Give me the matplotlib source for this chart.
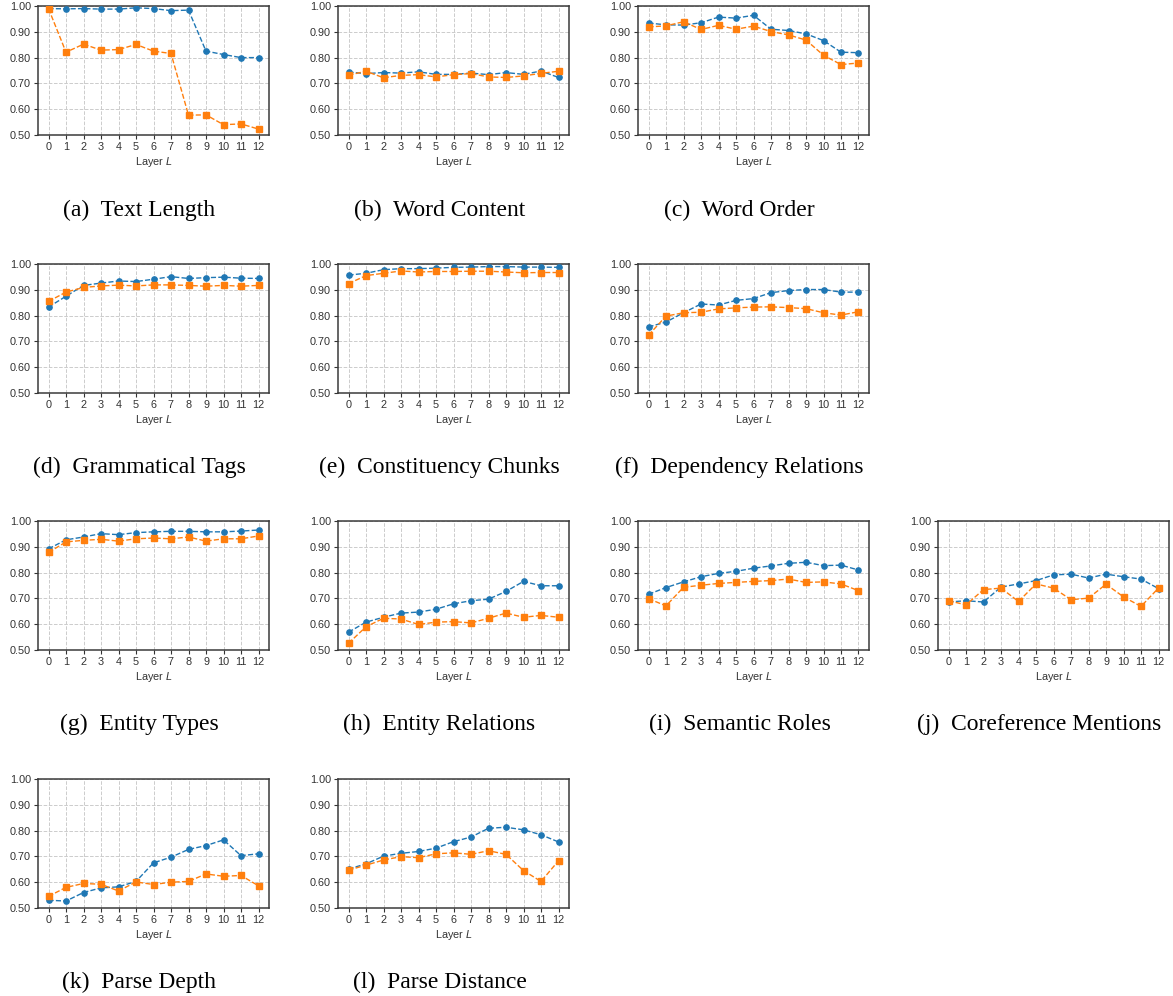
import matplotlib
matplotlib.use("Agg")
import matplotlib.pyplot as plt
import numpy as np

layers = list(range(13))

titles = ['(a)  Text Length', '(b)  Word Content', '(c)  Word Order',
          '(d)  Grammatical Tags', '(e)  Constituency Chunks', '(f)  Dependency Relations',
          '(g)  Entity Types', '(h)  Entity Relations', '(i)  Semantic Roles',
          '(j)  Coreference Mentions', '(k)  Parse Depth', '(l)  Parse Distance']

# blue (circle) series, one list per task
text_length_a = [0.990, 0.989, 0.990, 0.988, 0.988, 0.993, 0.990, 0.982, 0.984, 0.825, 0.812, 0.800, 0.800]
word_content_a = [0.744, 0.738, 0.742, 0.740, 0.745, 0.735, 0.735, 0.740, 0.734, 0.742, 0.735, 0.748, 0.723]
word_order_a = [0.934, 0.927, 0.926, 0.935, 0.957, 0.953, 0.964, 0.910, 0.905, 0.892, 0.866, 0.821, 0.819]
gram_tags_a = [0.833, 0.875, 0.917, 0.926, 0.934, 0.932, 0.941, 0.951, 0.944, 0.947, 0.949, 0.945, 0.944]
chunks_a = [0.957, 0.964, 0.978, 0.982, 0.982, 0.984, 0.987, 0.988, 0.990, 0.990, 0.988, 0.988, 0.987]
dep_rel_a = [0.756, 0.775, 0.811, 0.845, 0.841, 0.859, 0.866, 0.889, 0.897, 0.901, 0.901, 0.891, 0.891]
ent_types_a = [0.892, 0.927, 0.938, 0.951, 0.947, 0.955, 0.958, 0.960, 0.960, 0.958, 0.958, 0.961, 0.965]
ent_rel_a = [0.569, 0.608, 0.627, 0.643, 0.647, 0.658, 0.679, 0.691, 0.697, 0.727, 0.766, 0.749, 0.749]
sem_roles_a = [0.716, 0.742, 0.764, 0.784, 0.797, 0.805, 0.817, 0.826, 0.836, 0.840, 0.827, 0.829, 0.810]
coref_a = [0.686, 0.691, 0.686, 0.744, 0.756, 0.769, 0.791, 0.794, 0.779, 0.794, 0.784, 0.775, 0.738]
parse_depth_a = [0.530, 0.527, 0.560, 0.578, 0.582, 0.603, 0.675, 0.697, 0.727, 0.742, 0.764, 0.703, 0.710]
parse_dist_a = [0.651, 0.671, 0.701, 0.712, 0.719, 0.732, 0.757, 0.775, 0.809, 0.813, 0.803, 0.784, 0.756]

# orange (square) series
text_length_b = [0.990, 0.821, 0.852, 0.829, 0.831, 0.851, 0.825, 0.816, 0.577, 0.578, 0.540, 0.543, 0.523]
word_content_b = [0.732, 0.747, 0.722, 0.731, 0.734, 0.725, 0.734, 0.738, 0.725, 0.723, 0.729, 0.739, 0.747]
word_order_b = [0.919, 0.923, 0.939, 0.909, 0.925, 0.910, 0.922, 0.901, 0.888, 0.868, 0.809, 0.773, 0.779]
gram_tags_b = [0.855, 0.891, 0.909, 0.915, 0.918, 0.915, 0.919, 0.919, 0.917, 0.914, 0.917, 0.914, 0.917]
chunks_b = [0.924, 0.955, 0.964, 0.973, 0.969, 0.971, 0.971, 0.972, 0.972, 0.969, 0.966, 0.967, 0.967]
dep_rel_b = [0.724, 0.798, 0.811, 0.813, 0.826, 0.830, 0.833, 0.834, 0.831, 0.827, 0.811, 0.802, 0.815]
ent_types_b = [0.878, 0.919, 0.925, 0.929, 0.922, 0.931, 0.934, 0.931, 0.938, 0.922, 0.931, 0.931, 0.942]
ent_rel_b = [0.526, 0.590, 0.623, 0.620, 0.599, 0.608, 0.610, 0.605, 0.623, 0.643, 0.627, 0.634, 0.627]
sem_roles_b = [0.699, 0.671, 0.743, 0.751, 0.758, 0.762, 0.766, 0.769, 0.775, 0.762, 0.764, 0.756, 0.730]
coref_b = [0.691, 0.675, 0.734, 0.740, 0.688, 0.756, 0.740, 0.695, 0.701, 0.755, 0.706, 0.669, 0.740]
parse_depth_b = [0.545, 0.580, 0.595, 0.592, 0.566, 0.601, 0.591, 0.600, 0.603, 0.632, 0.623, 0.626, 0.586]
parse_dist_b = [0.647, 0.666, 0.686, 0.699, 0.695, 0.710, 0.714, 0.708, 0.722, 0.708, 0.645, 0.603, 0.683]

series_a = [text_length_a, word_content_a, word_order_a, gram_tags_a, chunks_a, dep_rel_a,
            ent_types_a, ent_rel_a, sem_roles_a, coref_a, parse_depth_a, parse_dist_a]
series_b = [text_length_b, word_content_b, word_order_b, gram_tags_b, chunks_b, dep_rel_b,
            ent_types_b, ent_rel_b, sem_roles_b, coref_b, parse_depth_b, parse_dist_b]

# (col, row) placement of each panel in the 4x4 grid
slots = [(0, 0), (1, 0), (2, 0), (0, 1), (1, 1), (2, 1),
         (0, 2), (1, 2), (2, 2), (3, 2), (0, 3), (1, 3)]

W, H = 1173, 996
col_left = [38, 338, 638, 938]
row_top = [6, 264, 521, 779]
ax_w, ax_h = 231, 129
caption_y = [210, 467, 724, 982]

plt.rcParams['font.family'] = ['Liberation Sans', 'DejaVu Sans']
plt.rcParams['mathtext.fontset'] = 'custom'
plt.rcParams['mathtext.it'] = 'Liberation Sans:italic'

fig = plt.figure(figsize=(W / 100, H / 100), dpi=100)

for i, (col, row) in enumerate(slots):
    x0 = col_left[col]
    y0 = row_top[row]
    ax = fig.add_axes([x0 / W, 1 - (y0 + ax_h) / H, ax_w / W, ax_h / H])

    ax.plot(layers, series_a[i], linestyle='--', marker='o', color='#1f77b4',
            markersize=3.8, linewidth=1.0, zorder=3)
    ax.plot(layers, series_b[i], linestyle='--', marker='s', color='#ff7f0e',
            markersize=4.0, linewidth=1.0, zorder=3)

    ax.set_ylim(0.5, 1.0)
    ax.set_xlim(-0.6, 12.6)
    ax.set_xticks(layers)
    ax.set_yticks(np.arange(0.5, 1.01, 0.1))
    ax.set_yticklabels([f'{v:.2f}' for v in np.arange(0.5, 1.01, 0.1)])
    ax.tick_params(labelsize=7.8, colors='#333333', length=3, width=0.8, pad=2)
    ax.set_xlabel('Layer $L$', fontsize=7.8, color='#333333', labelpad=2)

    ax.grid(True, linestyle='--', color='#cccccc', linewidth=0.7)
    ax.set_axisbelow(True)
    for sp in ax.spines.values():
        sp.set_color('#3a3a3a')
        sp.set_linewidth(1.1)

    fig.text((x0 + ax_w / 2 - 14) / W, 1 - caption_y[row] / H, titles[i],
             ha='center', va='center', fontsize=17, family='Liberation Serif')

fig.savefig('out.png', dpi=100)
